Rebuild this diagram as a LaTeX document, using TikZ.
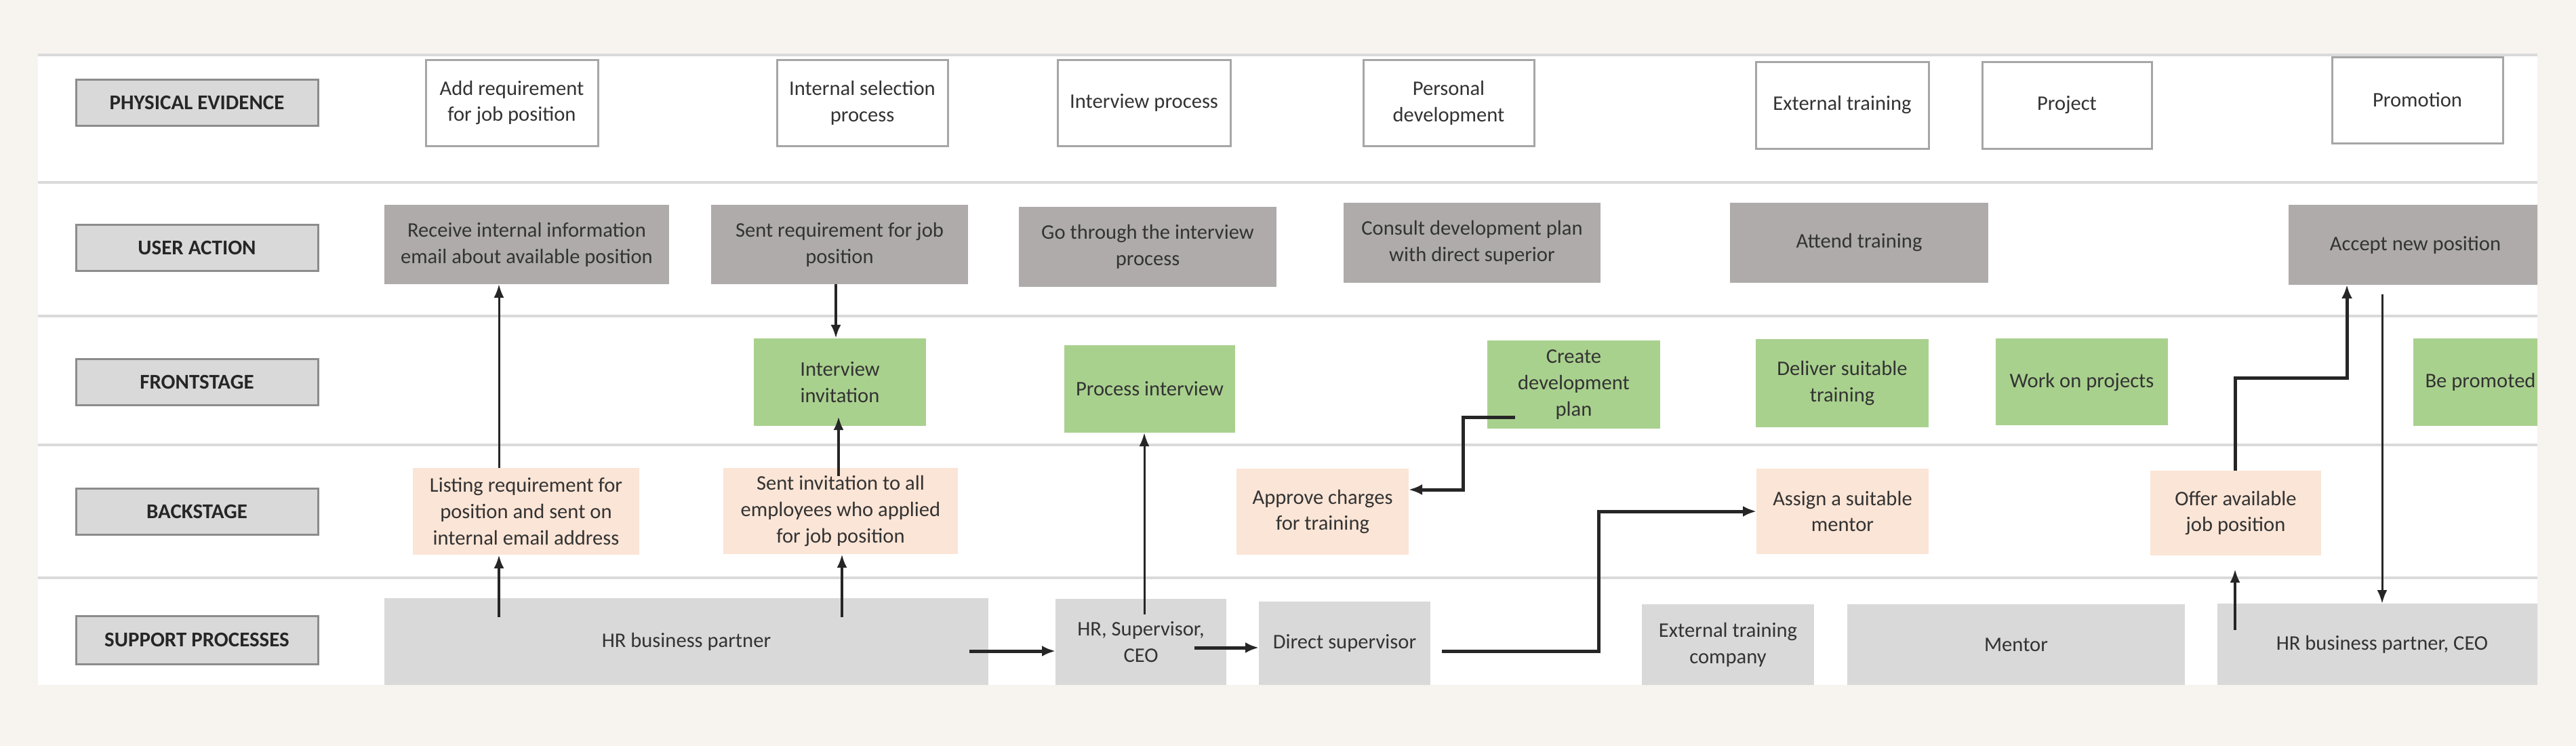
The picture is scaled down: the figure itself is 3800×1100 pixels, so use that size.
\documentclass[tikz,border=0pt]{standalone}
\usepackage{fontspec}
\setmainfont{Carlito}
\usetikzlibrary{arrows.meta}
\definecolor{bgc}{HTML}{F7F3EE}
\definecolor{lanec}{HTML}{DADADA}
\definecolor{labfill}{HTML}{D9D9D9}
\definecolor{labdraw}{HTML}{8C8C8C}
\definecolor{pedraw}{HTML}{A6A6A6}
\definecolor{uafill}{HTML}{AFABAB}
\definecolor{fsfill}{HTML}{A9D18E}
\definecolor{bsfill}{HTML}{FBE5D6}
\definecolor{spfill}{HTML}{D9D9D9}
\definecolor{ink}{HTML}{262626}
\definecolor{txt}{HTML}{333333}
\newcommand\mybox[7]{\node[#6, minimum width={(#4-#2)*0.01cm}, minimum height={(#5-#3)*0.01cm}] (#1) at ({(#2+#4)/2},{(#3+#5)/2}) {#7};}
\begin{document}
\begin{tikzpicture}[x=0.01cm,y=-0.01cm,
  every node/.style={font=\fontsize{8.7}{11}\selectfont, text=txt, align=center, inner sep=0pt, outer sep=0pt},
  lab/.style={fill=labfill, draw=labdraw, line width=0.03cm, font=\fontsize{8.8}{11}\selectfont\bfseries, text=ink},
  pe/.style={fill=white, draw=pedraw, line width=0.03cm},
  ua/.style={fill=uafill},
  fs/.style={fill=fsfill},
  bs/.style={fill=bsfill},
  sp/.style={fill=spfill},
  arrthin/.style={draw=ink, line width=0.03cm, -{Latex[length=0.2cm,width=0.15cm]}},
  arrmid/.style={draw=ink, line width=0.04cm, -{Latex[length=0.2cm,width=0.15cm]}},
  arrthick/.style={draw=ink, line width=0.05cm, -{Latex[length=0.2cm,width=0.16cm]}},
  lane/.style={draw=lanec, line width=0.045cm}
]
\useasboundingbox (0,0) rectangle (3800,1100);
\fill[bgc] (0,0) rectangle (3800,1100);
\fill[white] (56,81) rectangle (3743,1010);
\foreach \yy in {81,269,466,656,852} \draw[lane] (56,\yy) -- (3743,\yy);

% lane labels
\mybox{lpe}{112}{117}{469}{185}{lab}{PHYSICAL EVIDENCE}
\mybox{lua}{112}{331}{469}{399}{lab}{USER ACTION}
\mybox{lfs}{112}{529}{469}{597}{lab}{FRONTSTAGE}
\mybox{lbs}{112}{720}{469}{788}{lab}{BACKSTAGE}
\mybox{lsp}{112}{908}{469}{979}{lab}{SUPPORT PROCESSES}

\begin{scope}
\clip (56,70) rectangle (3743,1010);
% physical evidence
\mybox{pe1}{628}{88}{882}{215}{pe}{Add requirement\\for job position}
\mybox{pe2}{1146}{88}{1398}{215}{pe}{Internal selection\\process}
\mybox{pe3}{1560}{88}{1815}{215}{pe}{Interview process}
\mybox{pe4}{2011}{88}{2263}{215}{pe}{Personal\\development}
\mybox{pe5}{2590}{91}{2845}{219}{pe}{External training}
\mybox{pe6}{2924}{91}{3174}{219}{pe}{Project}
\mybox{pe7}{3440}{84}{3692}{211}{pe}{Promotion}
% user action
\mybox{rcv}{567}{302}{987}{419}{ua}{Receive internal information\\email about available position}
\mybox{sreq}{1049}{302}{1428}{419}{ua}{Sent requirement for job\\position}
\mybox{gth}{1503}{305}{1883}{423}{ua}{Go through the interview\\process}
\mybox{cns}{1982}{299}{2361}{417}{ua}{Consult development plan\\with direct superior}
\mybox{att}{2552}{299}{2933}{417}{ua}{Attend training}
\mybox{acc}{3376}{302}{3750}{420}{ua}{Accept new position}
% frontstage
\mybox{inv}{1112}{499}{1366}{628}{fs}{Interview\\invitation}
\mybox{proc}{1570}{509}{1822}{638}{fs}{Process interview}
\mybox{cdp}{2194}{502}{2449}{632}{fs}{Create\\development\\plan}
\mybox{dlv}{2590}{500}{2845}{630}{fs}{Deliver suitable\\training}
\mybox{wrk}{2944}{499}{3198}{627}{fs}{Work on projects}
\mybox{bpr}{3560}{499}{3758}{628}{fs}{Be promoted}
% backstage
\mybox{lst}{609}{690}{943}{818}{bs}{Listing requirement for\\position and sent on\\internal email address}
\mybox{sinv}{1067}{690}{1413}{817}{bs}{Sent invitation to all\\employees who applied\\for job position}
\mybox{apc}{1824}{691}{2078}{818}{bs}{Approve charges\\for training}
\mybox{asm}{2591}{691}{2845}{817}{bs}{Assign a suitable\\mentor}
\mybox{off}{3172}{694}{3424}{819}{bs}{Offer available\\job position}
% support processes
\mybox{hrbp}{567}{882}{1458}{1010}{sp}{HR business partner}
\mybox{hrsc}{1557}{883}{1809}{1010}{sp}{HR, Supervisor,\\CEO}
\mybox{ds}{1857}{887}{2110}{1010}{sp}{Direct supervisor}
\mybox{ext}{2422}{891}{2676}{1010}{sp}{External training\\company}
\mybox{mnt}{2725}{891}{3223}{1010}{sp}{Mentor}
\mybox{hrbpc}{3271}{890}{3757}{1010}{sp}{HR business partner, CEO}

% connectors
\coordinate (c1) at (736,0);
\draw[arrthin] (lst.north -| c1) -- (rcv.south -| c1);
\coordinate (a2) at (736,910);
\draw[arrmid] (a2) -- (lst.south -| a2);
\coordinate (c3) at (1233,0);
\draw[arrmid] (sreq.south -| c3) -- (inv.north -| c3);
\coordinate (a4s) at (1237,702);
\coordinate (a4e) at (1237,614);
\draw[arrmid] (a4s) -- (a4e);
\coordinate (a5) at (1242,910);
\draw[arrmid] (a5) -- (sinv.south -| a5);
\coordinate (a6) at (1430,960);
\draw[arrthick] (a6) -- (hrsc.west |- a6);
\coordinate (a7) at (1762,955);
\draw[arrthick] (a7) -- (ds.west |- a7);
\coordinate (a8) at (1688,906);
\draw[arrthin] (a8) -- (proc.south -| a8);
\coordinate (a9) at (2235,615);
\coordinate (a9b) at (2158,722);
\draw[arrthick] (a9) -| (a9b) -- (apc.east |- a9b);
\coordinate (a10) at (2127,960);
\coordinate (a10b) at (2358,754);
\draw[arrthick] (a10) -| (a10b) -- (asm.west |- a10b);
\coordinate (a11b) at (3297,557);
\coordinate (a11c) at (3462,557);
\draw[arrthick] (off.north -| a11b) -- (a11b) -- (a11c) -- (acc.south -| a11c);
\coordinate (a12) at (3514,434);
\draw[arrthin] (a12) -- (hrbpc.north -| a12);
\coordinate (a13s) at (3297,929);
\coordinate (a13e) at (3297,839);
\draw[arrmid] (a13s) -- (a13e);
\end{scope}
\end{tikzpicture}
\end{document}
